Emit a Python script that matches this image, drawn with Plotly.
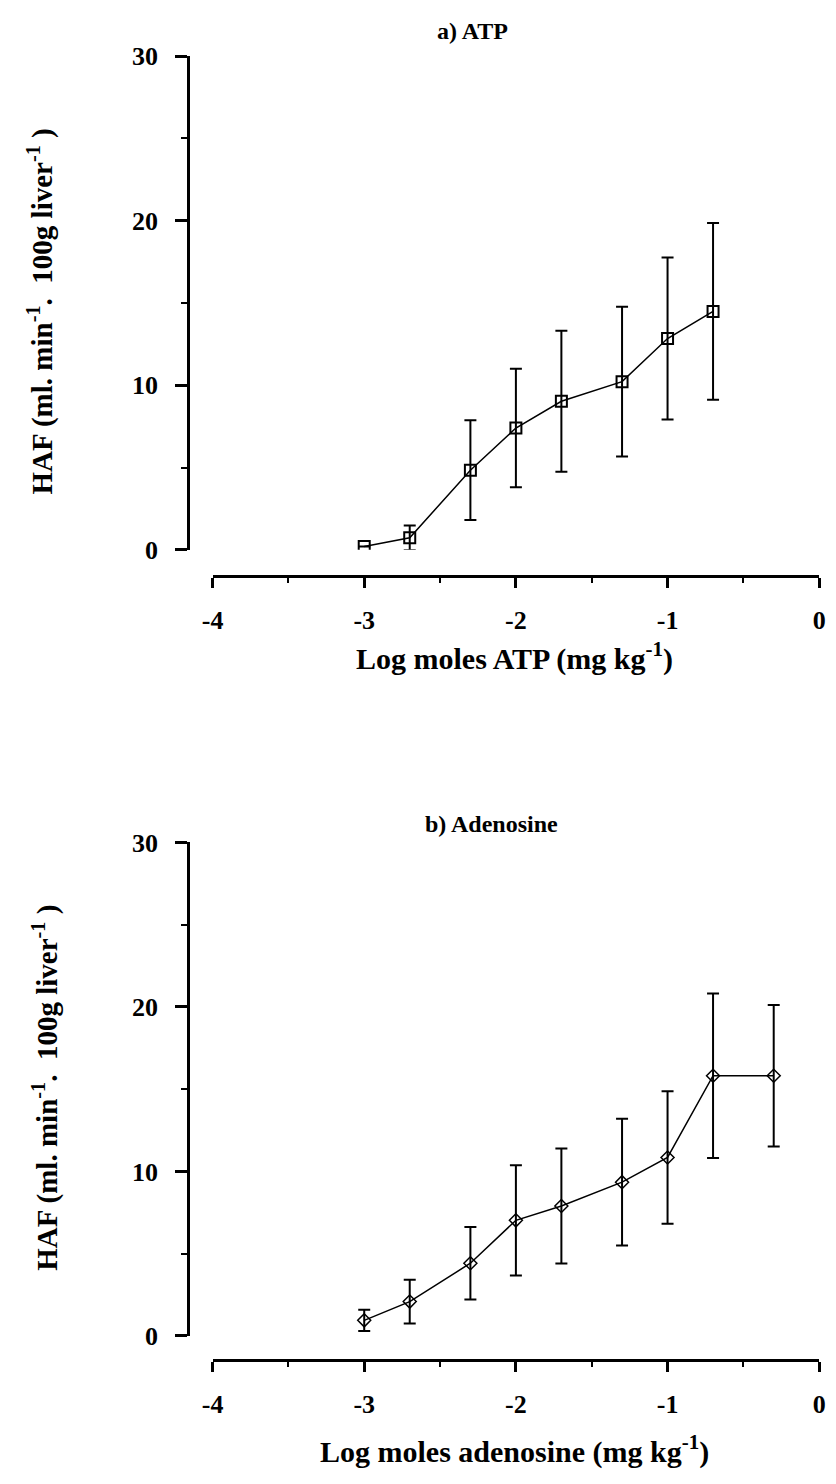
import plotly.graph_objects as go

# ---- data ----
atp_x = [-3, -2.7, -2.3, -2, -1.7, -1.3, -1, -0.7]
atp_y = [0.2, 0.73, 4.84, 7.4, 9.03, 10.22, 12.84, 14.49]
atp_err = [0, 0.75, 3.03, 3.6, 4.28, 4.55, 4.92, 5.37]

ado_x = [-3, -2.7, -2.3, -2, -1.7, -1.3, -1, -0.7, -0.3]
ado_y = [0.95, 2.09, 4.42, 7.03, 7.9, 9.35, 10.85, 15.82, 15.82]
ado_err = [0.65, 1.33, 2.2, 3.35, 3.5, 3.85, 4.03, 5.0, 4.3]

x_ticks = [-4, -3, -2, -1, 0]
y_ticks = [0, 10, 20, 30]

W, H = 836, 1484
FONT = "Liberation Serif"

def px_x(p):
    return p / W

def px_y(p):
    return 1 - p / H

fig = go.Figure()

fig.add_trace(go.Scatter(
    x=atp_x, y=atp_y, xaxis="x", yaxis="y", mode="lines+markers",
    line=dict(color="black", width=1.5),
    marker=dict(symbol="square-open", size=11, color="black", line=dict(width=2)),
    error_y=dict(type="data", array=atp_err, visible=True, color="black", thickness=2, width=6),
    showlegend=False,
))
fig.add_trace(go.Scatter(
    x=ado_x, y=ado_y, xaxis="x2", yaxis="y2", mode="lines+markers",
    line=dict(color="black", width=1.5),
    marker=dict(symbol="diamond-open", size=10, color="black", line=dict(width=1.5)),
    error_y=dict(type="data", array=ado_err, visible=True, color="black", thickness=2, width=6),
    showlegend=False,
))

tickfont = dict(family=FONT, size=26, color="black", weight="bold")

def xax(pos):
    return dict(
        domain=[px_x(206), px_x(826)], range=[-4, 0], anchor="free", position=pos,
        tickvals=x_ticks, ticktext=[str(v) for v in x_ticks],
        showline=True, linecolor="black", linewidth=3,
        ticks="outside", ticklen=10, tickwidth=2.5, tickcolor="black",
        minor=dict(ticks="outside", ticklen=5, tickwidth=2, tickcolor="black", dtick=0.5, showgrid=False),
        showgrid=False, zeroline=False, tickfont=tickfont, ticklabelstandoff=10,
    )

def yax(dom):
    return dict(
        domain=dom, range=[0, 30], anchor="free", position=px_x(181),
        tickvals=y_ticks, ticktext=[str(v) for v in y_ticks],
        showline=True, linecolor="black", linewidth=3,
        ticks="outside", ticklen=12, tickwidth=2.5, tickcolor="black",
        minor=dict(ticks="outside", ticklen=6, tickwidth=2, tickcolor="black", dtick=5, showgrid=False),
        showgrid=False, zeroline=False, tickfont=tickfont, ticklabelstandoff=12,
    )

fig.update_layout(
    width=W, height=H, margin=dict(l=0, r=0, t=0, b=0),
    paper_bgcolor="white", plot_bgcolor="white",
    xaxis=xax(px_y(573)),
    yaxis=yax([px_y(546.5), px_y(43)]),
    xaxis2=xax(px_y(1372.5)),
    yaxis2=yax([px_y(1348.3), px_y(845)]),
    font=dict(family=FONT, color="black"),
)

ytitle = "<b>HAF (ml. min<sup>-1</sup>.  100g liver<sup>-1</sup> )</b>"
annos = [
    dict(text="<b>a) ATP</b>", x=px_x(472), y=px_y(17), size=24, angle=0),
    dict(text="<b>b) Adenosine</b>", x=px_x(491), y=px_y(826), size=24, angle=0),
    dict(text="<b>Log moles ATP (mg kg<sup>-1</sup>)</b>", x=px_x(515), y=px_y(655), size=30, angle=0),
    dict(text="<b>Log moles adenosine (mg kg<sup>-1</sup>)</b>", x=px_x(515), y=px_y(1464), size=30, angle=0),
    dict(text=ytitle, x=px_x(30), y=px_y(303), size=29, angle=-90),
    dict(text=ytitle, x=px_x(35), y=px_y(1095), size=29, angle=-90),
]
for a in annos:
    fig.add_annotation(
        text=a["text"], x=a["x"], y=a["y"], xref="paper", yref="paper",
        xanchor="center", yanchor="middle", showarrow=False, textangle=a["angle"],
        font=dict(family=FONT, size=a["size"], color="black"),
    )

fig.write_html("out.html")
